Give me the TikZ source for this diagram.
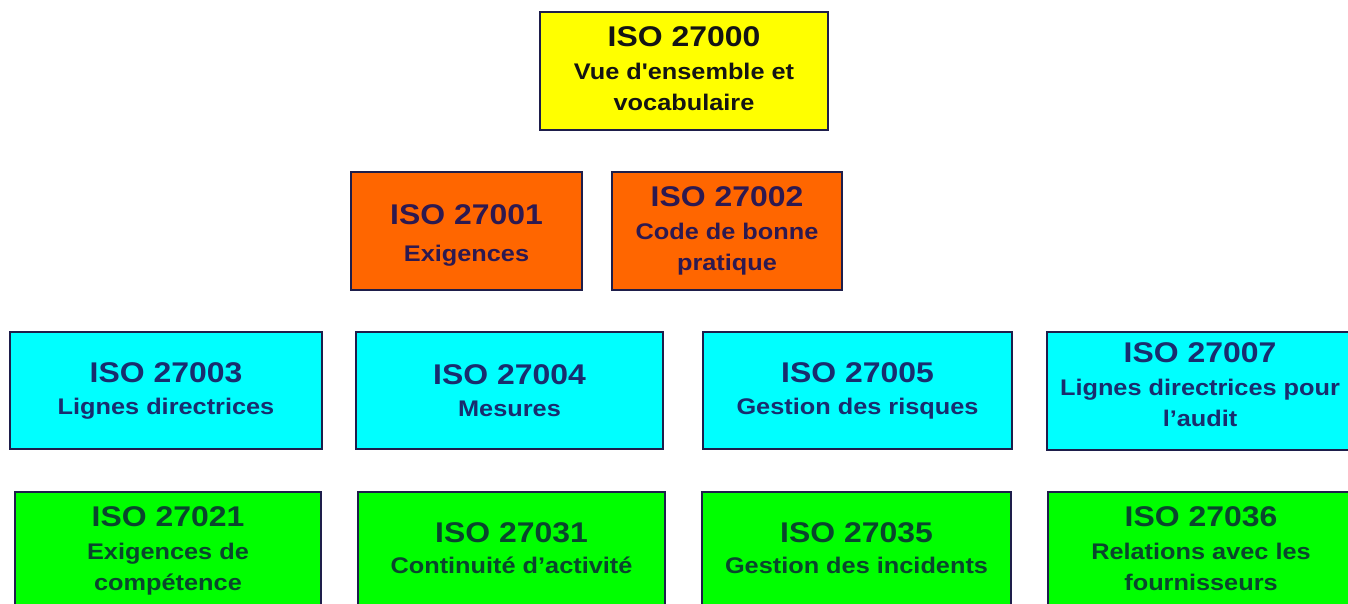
\documentclass[tikz,border=0pt]{standalone}
\usepackage{fontspec}
\setmainfont{Liberation Sans}
\newfontfamily\isofont[FakeStretch=1.12]{Liberation Sans}
\newcommand\isotitle{\isofont\bfseries\fontsize{28.5}{28.5}\selectfont}
\newcommand\isosub{\isofont\bfseries\fontsize{22.6}{31}\selectfont}
\newcommand\dstrut[1]{\rule[-#1]{0pt}{#1}}
\definecolor{edgenavy}{RGB}{30,30,75}
\definecolor{isoyellow}{RGB}{255,255,0}
\definecolor{isoorange}{RGB}{255,102,0}
\definecolor{isocyan}{RGB}{0,255,255}
\definecolor{isogreen}{RGB}{0,255,0}
\definecolor{txtyellow}{RGB}{20,20,20}
\definecolor{txtorange}{RGB}{45,25,80}
\definecolor{txtcyan}{RGB}{25,45,110}
\definecolor{txtgreen}{RGB}{10,70,45}
\tikzset{
  isobox/.style={draw=edgenavy, line width=1.8pt, rectangle, align=center,
    inner sep=0pt, font=\isosub},
  yellowbox/.style={isobox, fill=isoyellow, text=txtyellow},
  orangebox/.style={isobox, fill=isoorange, text=txtorange},
  cyanbox/.style={isobox, fill=isocyan, text=txtcyan},
  greenbox/.style={isobox, fill=isogreen, text=txtgreen},
}
\begin{document}
\begin{tikzpicture}[x=1pt,y=-1pt]
\clip (0,0) rectangle (1348,603);
\fill[white] (0,0) rectangle (1348,603);
\useasboundingbox (0,0) rectangle (1348,603);

\node[yellowbox, minimum width=288pt, minimum height=118pt] (y0) at (684,71)
  {{\isotitle ISO 27000}\\[2pt]Vue d'ensemble et\\vocabulaire\dstrut{4pt}};

\node[orangebox, minimum width=231pt, minimum height=118pt] (o1) at (466.5,231)
  {{\isotitle\rule{0pt}{29pt}ISO 27001}\\[6pt]Exigences};
\node[orangebox, minimum width=230pt, minimum height=118pt] (o2) at (727,231)
  {{\isotitle ISO 27002}\\[2pt]Code de bonne\\pratique};

\node[cyanbox, minimum width=312pt, minimum height=117pt] (c3) at (166,390.5)
  {{\isotitle ISO 27003}\\[1pt]Lignes directrices};
\node[cyanbox, minimum width=307pt, minimum height=117pt] (c4) at (509.5,390.5)
  {{\isotitle ISO 27004}\\[1pt]Mesures};
\node[cyanbox, minimum width=309pt, minimum height=117pt] (c5) at (857.5,390.5)
  {{\isotitle ISO 27005}\\[1pt]Gestion des risques};
\node[cyanbox, minimum width=306pt, minimum height=118pt] (c7) at (1200,391)
  {{\isotitle ISO 27007}\\[2pt]Lignes directrices pour\\l’audit\dstrut{12pt}};

\node[greenbox, minimum width=306pt, minimum height=118pt] (g21) at (168,551)
  {{\isotitle ISO 27021}\\[2pt]Exigences de\\compétence};
\node[greenbox, minimum width=307pt, minimum height=118pt] (g31) at (511.5,551)
  {{\isotitle ISO 27031}\\[0pt]Continuité d’activité\dstrut{6pt}};
\node[greenbox, minimum width=309pt, minimum height=118pt] (g35) at (856.5,551)
  {{\isotitle ISO 27035}\\[0pt]Gestion des incidents\dstrut{6pt}};
\node[greenbox, minimum width=306pt, minimum height=118pt] (g36) at (1201,551)
  {{\isotitle ISO 27036}\\[2pt]Relations avec les\\fournisseurs\dstrut{4pt}};
\end{tikzpicture}
\end{document}
